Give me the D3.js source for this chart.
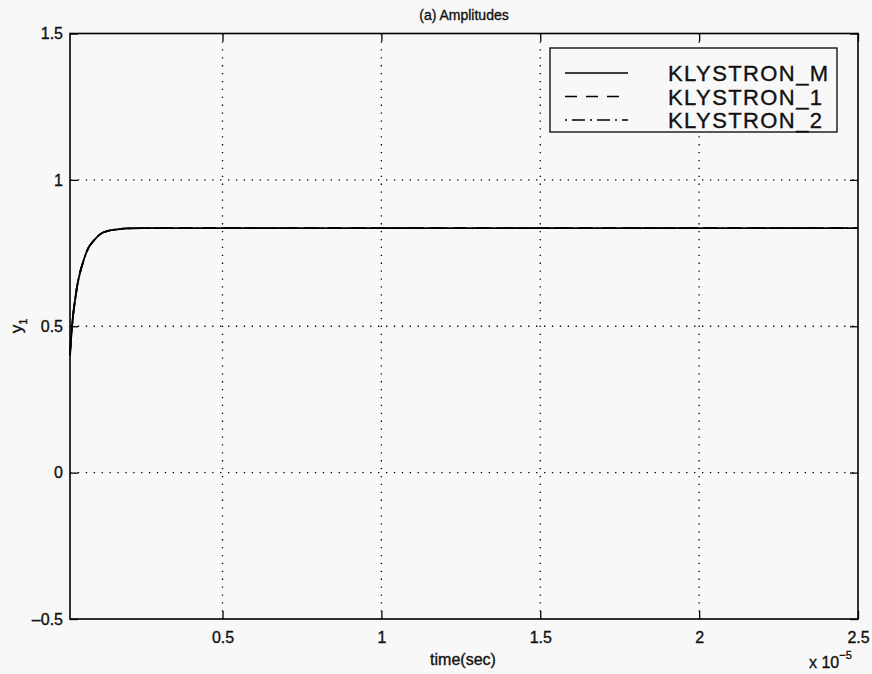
<!DOCTYPE html>
<html>
<head>
<meta charset="utf-8">
<script src="https://cdn.jsdelivr.net/npm/d3@7"></script>
<style>
  html, body { margin: 0; padding: 0; background: #f8f8f8; }
  svg { display: block; font-family: "Liberation Sans", Arial, Helvetica, sans-serif; }
  svg text { stroke: #111; stroke-width: 0.35px; }
</style>
</head>
<body>
<svg id="chart" width="872" height="674"></svg>
<script>
// time samples, in units of 1e-5 s
const timeValues = [0.02, 0.0235, 0.0265, 0.031, 0.036, 0.043, 0.0515, 0.06, 0.067, 0.078, 0.093, 0.108, 0.124, 0.14, 0.155, 0.175, 0.2, 0.25, 0.3, 0.5, 1.0, 1.5, 2.0, 2.5];
// amplitude of each klystron
const klystronM = [0.40, 0.46, 0.50, 0.55, 0.59, 0.64, 0.683, 0.715, 0.739, 0.768, 0.79, 0.808, 0.82, 0.826, 0.829, 0.832, 0.834, 0.835, 0.835, 0.835, 0.835, 0.835, 0.835, 0.835];
const klystron1 = [0.40, 0.46, 0.50, 0.55, 0.59, 0.64, 0.683, 0.715, 0.739, 0.768, 0.79, 0.808, 0.82, 0.826, 0.829, 0.832, 0.834, 0.835, 0.835, 0.835, 0.835, 0.835, 0.835, 0.835];
const klystron2 = [0.40, 0.46, 0.50, 0.55, 0.59, 0.64, 0.683, 0.715, 0.739, 0.768, 0.79, 0.808, 0.82, 0.826, 0.829, 0.832, 0.834, 0.835, 0.835, 0.835, 0.835, 0.835, 0.835, 0.835];
const seriesNames = ["KLYSTRON_M", "KLYSTRON_1", "KLYSTRON_2"];
const xTicks = [0.5, 1, 1.5, 2, 2.5];
const yTicks = [-0.5, 0, 0.5, 1, 1.5];

const svg = d3.select("#chart");
const plotL = 70, plotR = 858, plotT = 33.5, plotB = 619;

const x = d3.scaleLinear().domain([0.02, 2.5]).range([plotL, plotR]);
const y = d3.scaleLinear().domain([-0.5, 1.5]).range([plotB, plotT]);

const tickLen = 8;
const grid = svg.append("g").attr("stroke", "#000").attr("stroke-width", 1.3)
  .attr("stroke-dasharray", "1.3,6.6");

// dotted grid
grid.selectAll(".gx").data(xTicks.filter(d => d < 2.5)).enter().append("line")
  .attr("x1", d => x(d)).attr("x2", d => x(d)).attr("y1", plotT).attr("y2", plotB);
grid.selectAll(".gy").data(yTicks.filter(d => d > -0.5 && d < 1.5)).enter().append("line")
  .attr("x1", plotL).attr("x2", plotR).attr("y1", d => y(d)).attr("y2", d => y(d));

// axes: ticks point inward on all four sides
const axB = d3.axisBottom(x).tickValues(xTicks).tickSizeInner(-tickLen).tickSizeOuter(0).tickPadding(13).tickFormat(d3.format("~g"));
const axT = d3.axisTop(x).tickValues(xTicks).tickSizeInner(-tickLen).tickSizeOuter(0).tickFormat("");
const axL = d3.axisLeft(y).tickValues(yTicks).tickSizeInner(-tickLen).tickSizeOuter(0).tickPadding(7)
  .tickFormat(d => d < 0 ? "\u2013" + Math.abs(d) : d3.format("~g")(d));
const axR = d3.axisRight(y).tickValues(yTicks).tickSizeInner(-tickLen).tickSizeOuter(0).tickFormat("");

function styleAxis(g) {
  g.select(".domain").remove();
  g.selectAll("line").attr("stroke", "#000").attr("stroke-width", 1.3);
  g.selectAll("text").attr("fill", "#111").style("font-size", "16px").style("font-family", "'Liberation Sans', Arial, sans-serif");
}
svg.append("g").attr("transform", `translate(0,${plotB})`).call(axB).call(styleAxis);
svg.append("g").attr("transform", `translate(0,${plotT})`).call(axT).call(styleAxis);
svg.append("g").attr("transform", `translate(${plotL},0)`).call(axL).call(styleAxis);
svg.append("g").attr("transform", `translate(${plotR},0)`).call(axR).call(styleAxis);

// frame
svg.append("rect").attr("x", plotL).attr("y", plotT).attr("width", plotR - plotL).attr("height", plotB - plotT)
  .attr("fill", "none").attr("stroke", "#000").attr("stroke-width", 1.6);

// series curves
const seriesData = [klystronM, klystron1, klystron2];
const dashes = [null, "12,9", "2,5,13,5"];
const line = d3.line().x(d => x(d[0])).y(d => y(d[1])).curve(d3.curveMonotoneX);
seriesData.forEach((vals, i) => {
  svg.append("path")
    .datum(timeValues.map((t, k) => [t, vals[k]]))
    .attr("fill", "none").attr("stroke", "#000").attr("stroke-width", 1.8)
    .attr("stroke-dasharray", dashes[i])
    .attr("d", line);
});

// legend
const lg = svg.append("g");
lg.append("rect").attr("x", 550).attr("y", 48).attr("width", 287).attr("height", 84)
  .attr("fill", "#f8f8f8").attr("stroke", "#000").attr("stroke-width", 1.3);
seriesNames.forEach((name, i) => {
  const cy = 73 + i * 23.5;
  lg.append("line").attr("x1", 565).attr("x2", i === 1 ? 620 : 628).attr("y1", cy).attr("y2", cy)
    .attr("stroke", "#000").attr("stroke-width", 1.5).attr("stroke-dasharray", dashes[i]);
  lg.append("text").attr("x", 668).attr("y", cy + 8).text(name)
    .style("font-size", "22px").style("letter-spacing", "1.4px").attr("fill", "#111");
});

// titles and labels
svg.append("text").attr("x", 464).attr("y", 20).attr("text-anchor", "middle")
  .style("font-size", "14px").attr("fill", "#111").text("(a) Amplitudes");
svg.append("text").attr("x", 463).attr("y", 665).attr("text-anchor", "middle")
  .style("font-size", "16px").attr("fill", "#111").text("time(sec)");

const ex = svg.append("text").attr("x", 809).attr("y", 668).style("font-size", "16px").attr("fill", "#111");
ex.append("tspan").text("x 10");
ex.append("tspan").attr("dy", -9).style("font-size", "11px").text("\u22125");

const yl = svg.append("text").attr("transform", "translate(22,326) rotate(-90)")
  .attr("text-anchor", "middle").style("font-size", "17px").attr("fill", "#111");
yl.append("tspan").text("y");
yl.append("tspan").attr("dy", 5).style("font-size", "11px").text("1");
</script>
</body>
</html>
